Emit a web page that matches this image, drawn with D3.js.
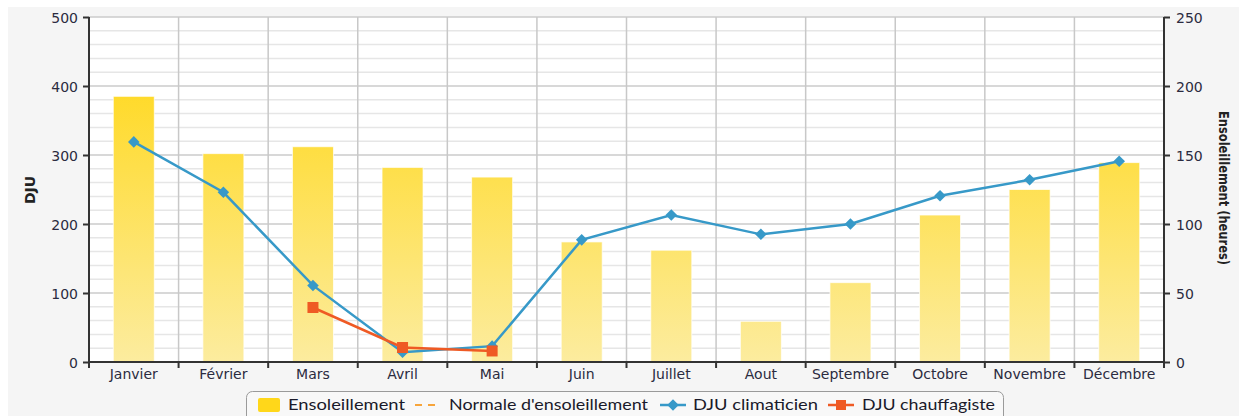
<!DOCTYPE html>
<html><head><meta charset="utf-8">
<script src="https://cdn.jsdelivr.net/npm/d3@7"></script>
<style>
html,body{margin:0;padding:0;background:#fff;}
svg{display:block;}
</style></head>
<body>
<svg id="c" width="1239" height="416"></svg>
<script>
const months = ["Janvier","Février","Mars","Avril","Mai","Juin","Juillet","Aout","Septembre","Octobre","Novembre","Décembre"];
const ensoleillement = [192.5, 151, 156, 141, 134, 87, 81, 29.5, 57.5, 106.5, 125, 144.5];
const normaleEnsoleillement = [];
const djuClimaticien = [319, 246, 111, 14, 23, 177, 213, 185, 200, 241, 264, 291];
const djuChauffagiste = [null, null, 79, 21, 16, null, null, null, null, null, null, null];
const leftTicks = [0, 100, 200, 300, 400, 500];
const rightTicks = [0, 50, 100, 150, 200, 250];
const legendLabels = ["Ensoleillement", "Normale d'ensoleillement", "DJU climaticien", "DJU chauffagiste"];

const W = 1239, H = 416;
const m = {l: 89, r: 1164, t: 17, b: 362};
const svg = d3.select("#c");
const font = "'DejaVu Sans', Verdana, sans-serif";
const txtCol = "#2b2b40";

// backgrounds
svg.append("rect").attr("x",0).attr("y",0).attr("width",W).attr("height",H).attr("fill","#fff");
svg.append("rect").attr("x",8).attr("y",7).attr("width",W-8).attr("height",H-7).attr("fill","#f5f5f5");
svg.append("rect").attr("x",m.l).attr("y",m.t).attr("width",m.r-m.l).attr("height",m.b-m.t).attr("fill","#fff");

const x = d3.scaleBand().domain(months).range([m.l, m.r]).paddingInner(0).paddingOuter(0);
const yL = d3.scaleLinear().domain([0, 500]).range([m.b, m.t]);
const yR = d3.scaleLinear().domain([0, 250]).range([m.b, m.t]);

// grid
const g = svg.append("g");
g.selectAll(".minor").data(d3.range(20, 500, 20).filter(v => v % 100 !== 0)).join("line")
  .attr("x1", m.l).attr("x2", m.r).attr("y1", d => yL(d)).attr("y2", d => yL(d))
  .attr("stroke", "#e6e6e6").attr("stroke-width", 1.5);
g.selectAll(".major").data(leftTicks.slice(1)).join("line")
  .attr("x1", m.l).attr("x2", m.r).attr("y1", d => yL(d)).attr("y2", d => yL(d))
  .attr("stroke", "#cbcbcb").attr("stroke-width", 1.5);
g.selectAll(".vg").data(months.slice(1)).join("line")
  .attr("x1", d => x(d)).attr("x2", d => x(d)).attr("y1", m.t).attr("y2", m.b)
  .attr("stroke", "#c8c8c8").attr("stroke-width", 1.5);

// gradient
const defs = svg.append("defs");
const grad = defs.append("linearGradient").attr("id","bg").attr("gradientUnits","userSpaceOnUse")
  .attr("x1",0).attr("x2",0).attr("y1",m.t+60).attr("y2",m.b);
grad.append("stop").attr("offset","0").attr("stop-color","#ffd923");
grad.append("stop").attr("offset","1").attr("stop-color","#fcec9f");

// bars
const bw = 41;
svg.append("g").selectAll("rect").data(ensoleillement).join("rect")
  .attr("x", (d,i) => x(months[i]) + x.bandwidth()/2 - bw/2)
  .attr("width", bw)
  .attr("y", d => yR(d))
  .attr("height", d => yR(0) - yR(d))
  .attr("fill", "url(#bg)")
  .attr("stroke", "rgba(255,255,255,0.7)").attr("stroke-width", 1);

// lines
const cx = i => x(months[i]) + x.bandwidth()/2;
const lineC = d3.line().defined(d => d != null).x((d,i) => cx(i)).y(d => yL(d));
svg.append("path").attr("d", lineC(djuClimaticien)).attr("fill","none")
  .attr("stroke","#3799c8").attr("stroke-width",2.5);
svg.append("path").attr("d", lineC(djuChauffagiste)).attr("fill","none")
  .attr("stroke","#ef5a24").attr("stroke-width",2.5);

const diamond = d3.symbol().type(d3.symbolDiamond2).size(85);
svg.append("g").selectAll("path").data(djuClimaticien).join("path")
  .attr("d", diamond)
  .attr("transform", (d,i) => `translate(${cx(i)},${yL(d)})`)
  .attr("fill","#3799c8");
svg.append("g").selectAll("rect").data(djuChauffagiste.map((d,i)=>({d,i})).filter(o=>o.d!=null)).join("rect")
  .attr("x", o => cx(o.i) - 5.5).attr("y", o => yL(o.d) - 5.5)
  .attr("width", 11).attr("height", 11).attr("fill","#ef5a24");

// axes
const axL = svg.append("g").attr("transform",`translate(${m.l},0)`)
  .call(d3.axisLeft(yL).tickValues(leftTicks).tickSize(6).tickPadding(5));
const axR = svg.append("g").attr("transform",`translate(${m.r},0)`)
  .call(d3.axisRight(yR).tickValues(rightTicks).tickSize(6).tickPadding(6));
const axB = svg.append("g").attr("transform",`translate(0,${m.b})`)
  .call(d3.axisBottom(x).tickSize(0).tickPadding(7));
svg.append("g").selectAll("line").data(d3.range(0, 13)).join("line")
  .attr("x1", i => m.l + i * x.bandwidth()).attr("x2", i => m.l + i * x.bandwidth())
  .attr("y1", m.b).attr("y2", m.b + 6).attr("stroke","#333").attr("stroke-width",2);

[axL, axR, axB].forEach(a => {
  a.select(".domain").attr("stroke","#333").attr("stroke-width",2);
  a.selectAll(".tick line").attr("stroke","#333").attr("stroke-width",2);
  a.selectAll(".tick text").attr("fill",txtCol).style("font-family",font).style("font-size","14px");
});
axB.select(".domain").attr("d", `M${m.l},0H${m.r}`);
axL.select(".domain").attr("d", `M0,${m.b}V${m.t}`);
axR.select(".domain").attr("d", `M0,${m.b}V${m.t}`);
axL.selectAll(".tick text").attr("dy","0.36em");
axR.selectAll(".tick text").attr("dy","0.36em");

// axis titles
svg.append("text").attr("transform",`translate(35,190) rotate(-90)`)
  .attr("text-anchor","middle").attr("fill","#222")
  .style("font-family",font).style("font-size","14px").style("font-weight","bold").text("DJU");
svg.append("text").attr("transform",`translate(1219,188) rotate(90)`)
  .attr("text-anchor","middle").attr("fill","#222")
  .attr("textLength",154).attr("lengthAdjust","spacingAndGlyphs")
  .style("font-family",font).style("font-size","14px").style("font-weight","bold").text("Ensoleillement (heures)");

// legend
const lg = svg.append("g");
lg.append("rect").attr("x",246.5).attr("y",391.5).attr("width",757).attr("height",40).attr("rx",6)
  .attr("fill","#f8f8f8").attr("stroke","#9a9a9a").attr("stroke-width",1);
const lf = "'Lato', 'Open Sans', sans-serif";
const ly = 405;
const symX = [258, 415, 660, 828];
const txtX = [288, 449, 693, 862];
const txtW = [117, 199, 125, 133];
legendLabels.forEach((t,i) => {
  lg.append("text").attr("x", txtX[i]).attr("y", ly).attr("dy","0.35em")
    .attr("fill","#1a1a2a").style("font-family",lf).style("font-size","15px")
    .attr("textLength", txtW[i]).attr("lengthAdjust","spacingAndGlyphs").text(t);
});
lg.append("rect").attr("x",symX[0]).attr("y",ly-7).attr("width",22).attr("height",14).attr("rx",2).attr("fill","#ffd71a");
lg.append("line").attr("x1",symX[1]).attr("x2",symX[1]+26).attr("y1",ly).attr("y2",ly)
  .attr("stroke","#f7a53b").attr("stroke-width",2).attr("stroke-dasharray","7,6");
lg.append("line").attr("x1",symX[2]).attr("x2",symX[2]+26).attr("y1",ly).attr("y2",ly)
  .attr("stroke","#3799c8").attr("stroke-width",2.5);
lg.append("path").attr("d", diamond).attr("transform",`translate(${symX[2]+13},${ly})`).attr("fill","#3799c8");
lg.append("line").attr("x1",symX[3]).attr("x2",symX[3]+26).attr("y1",ly).attr("y2",ly)
  .attr("stroke","#ef5a24").attr("stroke-width",2.5);
lg.append("rect").attr("x",symX[3]+8).attr("y",ly-5).attr("width",10).attr("height",10).attr("fill","#ef5a24");
</script>
</body></html>
